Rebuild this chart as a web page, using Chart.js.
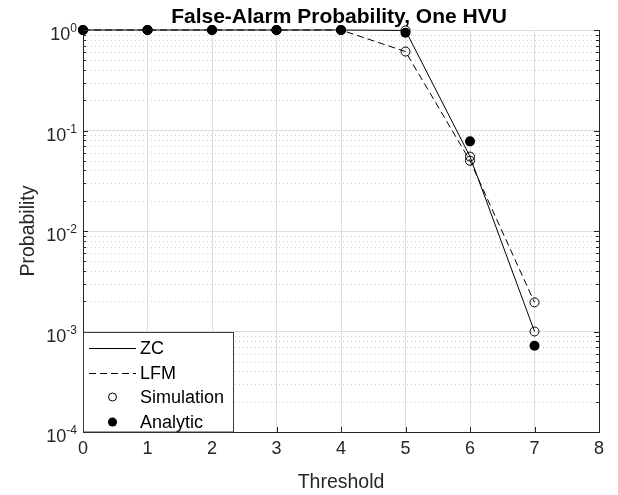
<!DOCTYPE html>
<html><head><meta charset="utf-8">
<script src="https://cdn.jsdelivr.net/npm/chart.js@4"></script>
<style>html,body{margin:0;padding:0;background:#fff}canvas{display:block}</style>
</head><body>
<canvas id="c" width="618" height="495"></canvas>
<script>
const thresholds = [0, 1, 2, 3, 4, 5, 6, 7];
const zcSimulation = [1, 1, 1, 1, 1, 0.99, 0.055, 0.001];
const lfmSimulation = [1, 1, 1, 1, 1, 0.61, 0.050, 0.00195];
const analytic = [1, 1, 1, 1, 1, 0.94, 0.078, 0.00072];
const xTickValues = [0, 1, 2, 3, 4, 5, 6, 7, 8];
const yDecades = [-4, -3, -2, -1, 0];
const legendLabels = ['ZC', 'LFM', 'Simulation', 'Analytic'];
const titleText = 'False-Alarm Probability, One HVU';
const xLabel = 'Threshold';
const yLabel = 'Probability';

const FONT = '"Liberation Sans", Arial, sans-serif';
const AX = '#262626';
const DASH = [7, 4];
const pts = arr => thresholds.map((x, i) => ({x: x, y: arr[i]}));

const matlabPlugin = {
  id: 'matlab',
  beforeDatasetsDraw(chart) {
    const {ctx, chartArea: a, scales: {y}} = chart;
    ctx.save();
    ctx.strokeStyle = '#cfcfcf';
    ctx.lineWidth = 1;
    ctx.setLineDash([1, 3]);
    for (let d = yDecades[0]; d < yDecades[yDecades.length - 1]; d++) {
      for (let m = 2; m <= 9; m++) {
        const py = Math.round(y.getPixelForValue(m * Math.pow(10, d))) + 0.5;
        ctx.beginPath(); ctx.moveTo(a.left, py); ctx.lineTo(a.right, py); ctx.stroke();
      }
    }
    ctx.restore();
  },
  afterDraw(chart) {
    const {ctx, chartArea: a, scales: {x, y}} = chart;
    ctx.save();
    ctx.strokeStyle = AX; ctx.lineWidth = 1; ctx.setLineDash([]);
    // right border
    ctx.beginPath(); ctx.moveTo(a.right + 0.5, a.top); ctx.lineTo(a.right + 0.5, a.bottom); ctx.stroke();
    // y ticks
    for (let d = yDecades[0]; d <= yDecades[yDecades.length - 1]; d++) {
      const mList = d < 0 ? [1,2,3,4,5,6,7,8,9] : [1];
      for (const m of mList) {
        const py = Math.round(y.getPixelForValue(m * Math.pow(10, d))) + 0.5;
        const len = m === 1 ? 5 : 3;
        ctx.beginPath(); ctx.moveTo(a.left, py); ctx.lineTo(a.left + len, py); ctx.stroke();
        ctx.beginPath(); ctx.moveTo(a.right, py); ctx.lineTo(a.right - len, py); ctx.stroke();
      }
    }
    // x ticks
    for (const v of xTickValues) {
      const px = Math.round(x.getPixelForValue(v)) + 0.5;
      ctx.beginPath(); ctx.moveTo(px, a.bottom); ctx.lineTo(px, a.bottom - 5); ctx.stroke();
    }
    // y tick labels 10^d
    ctx.fillStyle = AX;
    ctx.textBaseline = 'alphabetic';
    for (const d of yDecades) {
      const py = y.getPixelForValue(Math.pow(10, d));
      const ex = String(d);
      ctx.font = '12px ' + FONT;
      const ew = ctx.measureText(ex).width;
      ctx.textAlign = 'right';
      ctx.fillText(ex, 77, py + 2);
      ctx.font = '18px ' + FONT;
      ctx.fillText('10', 77 - ew, py + 10);
    }
    // title
    ctx.fillStyle = '#000';
    ctx.font = 'bold 21px ' + FONT;
    ctx.textAlign = 'center';
    ctx.fillText(titleText, 339, 23);
    // legend
    const lx = a.left, ly = 332, lw = 150, lh = a.bottom - 332;
    ctx.fillStyle = '#fff';
    ctx.fillRect(lx, ly, lw, lh);
    ctx.strokeStyle = '#3a3a3a';
    ctx.strokeRect(lx + 0.5, ly + 0.5, lw, lh - 0.5);
    const rows = [348, 373, 397, 422];
    ctx.strokeStyle = '#000';
    ctx.lineWidth = 1;
    ctx.setLineDash([]);
    ctx.beginPath(); ctx.moveTo(89, rows[0] + 0.5); ctx.lineTo(136, rows[0] + 0.5); ctx.stroke();
    ctx.setLineDash(DASH);
    ctx.beginPath(); ctx.moveTo(89, rows[1] + 0.5); ctx.lineTo(136, rows[1] + 0.5); ctx.stroke();
    ctx.setLineDash([]);
    ctx.beginPath(); ctx.arc(112.5, rows[2], 4, 0, Math.PI * 2); ctx.stroke();
    ctx.fillStyle = '#000';
    ctx.beginPath(); ctx.arc(112.5, rows[3], 4.5, 0, Math.PI * 2); ctx.fill();
    ctx.font = '18px ' + FONT;
    ctx.textAlign = 'left';
    ctx.textBaseline = 'middle';
    legendLabels.forEach((t, i) => ctx.fillText(t, 140, rows[i] + 1));
    ctx.restore();
  }
};

new Chart(document.getElementById('c'), {
  type: 'line',
  data: {
    datasets: [
      {label: 'ZC', data: pts(zcSimulation), borderColor: '#000', borderWidth: 1, pointRadius: 0, clip: false, order: 5},
      {label: 'LFM', data: pts(lfmSimulation), borderColor: '#000', borderWidth: 1, borderDash: DASH, pointRadius: 0, clip: false, order: 4},
      {label: 'Simulation ZC', data: pts(zcSimulation), showLine: false, pointRadius: 4.5, pointStyle: 'circle', pointBackgroundColor: 'rgba(0,0,0,0)', pointBorderColor: '#000', pointBorderWidth: 1, clip: false, order: 3},
      {label: 'Simulation LFM', data: pts(lfmSimulation), showLine: false, pointRadius: 4.5, pointStyle: 'circle', pointBackgroundColor: 'rgba(0,0,0,0)', pointBorderColor: '#000', pointBorderWidth: 1, clip: false, order: 2},
      {label: 'Analytic', data: pts(analytic), showLine: false, pointRadius: 5, pointStyle: 'circle', pointBackgroundColor: '#000', pointBorderColor: '#000', pointBorderWidth: 0, clip: false, order: 1}
    ]
  },
  options: {
    responsive: false,
    animation: false,
    devicePixelRatio: 1,
    layout: {padding: {top: 30, right: 19, left: 0, bottom: 0}},
    plugins: {legend: {display: false}, tooltip: {enabled: false}, title: {display: false}},
    scales: {
      x: {
        type: 'linear', min: 0, max: 8,
        afterBuildTicks: s => { s.ticks = xTickValues.map(v => ({value: v})); },
        afterFit: s => { s.height = 63; },
        ticks: {color: AX, font: {family: FONT, size: 18}, padding: 6, maxRotation: 0},
        grid: {color: '#dedede', lineWidth: 1, drawTicks: false},
        border: {color: AX, width: 1},
        title: {display: true, text: xLabel, color: AX, font: {family: FONT, size: 19.5}, padding: {top: 0, bottom: 1}}
      },
      y: {
        type: 'logarithmic', min: 1e-4, max: 1,
        afterBuildTicks: s => { s.ticks = yDecades.map(d => ({value: Math.pow(10, d)})); },
        afterFit: s => { s.width = 83; },
        ticks: {display: false},
        grid: {color: '#dedede', lineWidth: 1, drawTicks: false},
        border: {color: AX, width: 1},
        title: {display: true, text: yLabel, color: AX, font: {family: FONT, size: 19.5}, padding: {top: 17, bottom: 0}}
      }
    }
  },
  plugins: [matlabPlugin]
});
</script>
</body></html>
